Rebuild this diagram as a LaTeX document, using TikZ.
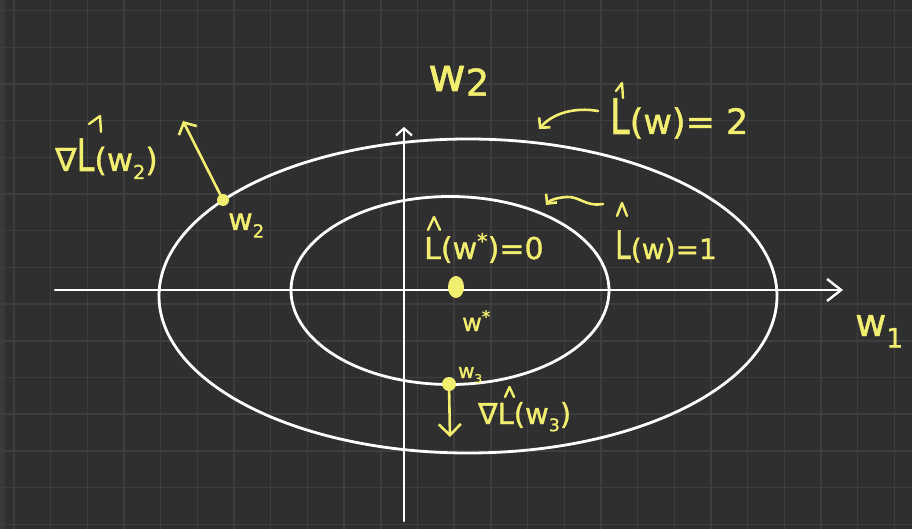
\documentclass[tikz,border=0pt]{standalone}
\usepackage{fontspec}
\setmainfont{DejaVu Sans}[FakeBold=1.2]
\usepackage{graphicx}
\usetikzlibrary{arrows.meta,shapes.geometric}
\definecolor{bg}{RGB}{47,47,47}
\definecolor{edgec}{RGB}{58,58,58}
\definecolor{gridc}{RGB}{62,62,62}
\definecolor{hand}{RGB}{242,238,112}
\newcommand\Lt{\scalebox{1}[1.4]{L}}
\newcommand\sbs[1]{\raisebox{-0.25em}{\scalebox{0.6}{#1}}}
\tikzset{
  gridline/.style={draw=gridc, line width=1.4pt},
  curve/.style={draw=white, line width=2.8pt},
  axisline/.style={draw=white, line width=2.4pt, line cap=round},
  harrow/.style={draw=hand, line width=2.6pt, line cap=round, line join=round},
  hatstroke/.style={draw=hand, line width=2.4pt, line cap=round, line join=round},
  hand/.style={text=hand, inner sep=0pt, anchor=base west},
  dotn/.style={circle, fill=hand, inner sep=0pt},
}
\begin{document}
\begin{tikzpicture}[x=1pt,y=-1pt]
\fill[bg] (0,0) rectangle (912,529);
\useasboundingbox (0,0) rectangle (912,529);
\fill[edgec] (0,0) rectangle (5,529);
\foreach \i in {0,...,24} \draw[gridline] ({14+36.68*\i},0) -- ({14+36.68*\i},529);
\foreach \j in {0,...,14} \draw[gridline] (0,{10.7+36.68*\j}) -- (912,{10.7+36.68*\j});

% axes
\coordinate (xl) at (55,290);
\coordinate (xr) at (843,290);
\coordinate (yb) at (404,521);
\coordinate (yt) at (404,127);
\draw[axisline, -{Straight Barb[length=14pt,width=22pt,line width=2.4pt]}] (xl) -- (xr);
\draw[axisline, -{Straight Barb[length=7pt,width=16pt,line width=2.2pt]}] (yb) -- (yt);

% level sets
\draw[curve] (468,296) ellipse [x radius=309pt, y radius=157pt];
\draw[curve] (450,290.5) ellipse [x radius=159pt, y radius=94pt];

% points
\node[dotn, minimum size=12pt] (w2d) at (223,200) {};
\node[dotn, minimum size=14pt] (w3d) at (449,384) {};
\node[ellipse, fill=hand, inner sep=0pt, minimum width=16pt, minimum height=22pt] (wsd) at (456,287) {};

% labels
\node[hand, font=\fontsize{46}{50}\selectfont] (ax2) at (428,91) {w\raisebox{-0.1em}{\scalebox{0.8}{2}}};
\node[hand, font=\fontsize{38}{42}\selectfont] (ax1) at (855,336) {w\raisebox{-0.3em}{\scalebox{0.7}{1}}};
\node[hand, font=\fontsize{35}{40}\selectfont] (lab2) at (610,134) {\Lt(w)= 2};
\node[hand, font=\fontsize{28}{32}\selectfont] (lab1) at (615,259) {\Lt(w)=1};
\node[hand, font=\fontsize{30}{34}\selectfont] (lab0) at (424,259) {L(w\raisebox{0.35em}{\scalebox{0.7}{*}})=0};
\node[hand, font=\fontsize{24}{28}\selectfont] (wsl) at (462,331) {w\raisebox{0.35em}{\scalebox{0.7}{*}}};
\node[hand, font=\fontsize{32}{36}\selectfont] (g2l) at (55,171) {∇\Lt(w\sbs{2})};
\node[hand, font=\fontsize{30}{34}\selectfont] (w2l) at (228,230) {w\sbs{2}};
\node[hand, font=\fontsize{20}{24}\selectfont] (w3l) at (458,378) {w\sbs{3}};
\node[hand, font=\fontsize{29}{33}\selectfont] (g3l) at (478,424) {∇L(w\sbs{3})};

% hats drawn by hand
\draw[hatstroke] (428,230) -- (434,217) -- (440,230);
\draw[hatstroke] (617,216) -- (622,203) -- (627,216);
\draw[hatstroke] (616,91) -- (622,83) -- (623,98);
\draw[hatstroke] (89,124) -- (100,116) -- (101,132);
\draw[hatstroke] (505,397) -- (509.5,387) -- (514,397);

% gradient arrows
\coordinate (g2tip) at (183,121);
\coordinate (g3tip) at (450,437);
\draw[harrow, -{Straight Barb[length=9pt,width=20pt,line width=2.6pt]}] (w2d.center) -- (g2tip);
\draw[harrow, -{Straight Barb[length=11pt,width=22pt,line width=2.6pt]}] (w3d.center) -- (g3tip);

% annotation arrows
\coordinate (a2s) at (598,111);
\coordinate (a2e) at (539,129);
\coordinate (a1s) at (603,204);
\coordinate (a1e) at (546,205);
\draw[harrow, -{Straight Barb[length=7pt,width=15pt,line width=2.6pt]}] (a2s) .. controls (575,107) and (553,113) .. (a2e);
\draw[harrow, -{Straight Barb[length=7pt,width=14pt,line width=2.6pt]}] (a1s) .. controls (585,207) and (580,196) .. (566,197) .. controls (556,198) and (550,200) .. (a1e);
\end{tikzpicture}
\end{document}
